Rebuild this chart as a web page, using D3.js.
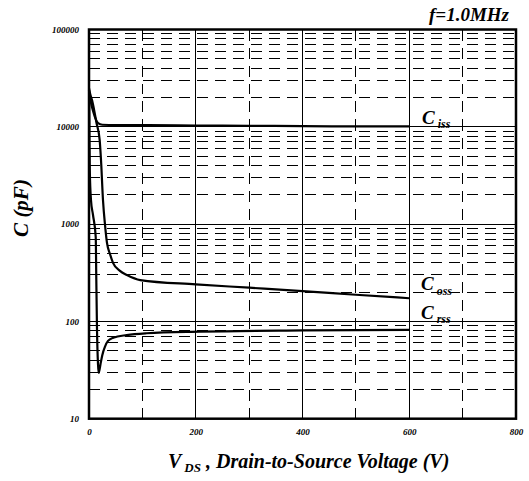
<!DOCTYPE html>
<html>
<head>
<meta charset="utf-8">
<script src="https://cdn.jsdelivr.net/npm/d3@7"></script>
<style>
  html, body { margin: 0; padding: 0; background: #fff; }
  svg { display: block; }
  text { font-family: "Liberation Serif", "Times New Roman", serif; font-weight: bold; font-style: italic; fill: #000; }
</style>
</head>
<body>
<svg id="chart" width="529" height="481"></svg>
<script>
// Capacitance vs. drain-to-source voltage, f = 1.0 MHz
const xTicks = [0, 200, 400, 600, 800];
const xMinor = [100, 300, 500, 700];
const yTicks = [10, 100, 1000, 10000, 100000];

// [V_DS (V), C (pF)]
const ciss = [[0, 24000], [2, 20000], [5, 16500], [8, 14300], [12, 12200], [17, 10900], [25, 10500],
  [50, 10400], [100, 10400], [200, 10300], [300, 10250], [400, 10150], [500, 10100], [600, 10080]];
const coss = [[0, 25000], [2, 22000], [6, 18500], [10, 14500], [14, 11000], [20, 7300], [22.5, 4560],
  [26.2, 1770], [30, 980], [33.7, 640], [39.3, 493], [45, 400], [58, 330], [71, 300], [96, 266],
  [200, 240], [300, 222], [400, 205], [500, 188], [600, 173]];
const crss = [[0.4, 22800], [0.9, 7300], [1.5, 3600], [3.7, 1770], [7.5, 1240], [12.6, 736], [13.7, 266],
  [15, 82], [16.9, 36], [18.2, 29.5], [21.6, 36.5], [24.9, 45], [30, 55], [35.6, 63], [45.5, 68],
  [70.7, 72.4], [108, 75.5], [208, 78.4], [401, 80.7], [600, 82]];

const svg = d3.select("#chart");
const margin = { left: 89, right: 13, top: 29.5, bottom: 62.3 };
const W = 529, H = 481;
const x = d3.scaleLinear().domain([0, 800]).range([margin.left, W - margin.right]);
const y = d3.scaleLog().domain([10, 100000]).range([H - margin.bottom, margin.top]);

const grid = svg.append("g").attr("shape-rendering", "crispEdges");

// minor (dashed) horizontal grid: 2..9 in each decade
const minorY = [];
for (let d = 10; d < 100000; d *= 10) for (let k = 2; k <= 9; k++) minorY.push(d * k);
grid.selectAll(".hminor").data(minorY).join("line")
  .attr("x1", x(0)).attr("x2", x(800))
  .attr("y1", d => y(d)).attr("y2", d => y(d))
  .attr("stroke", "#000").attr("stroke-width", 1).attr("stroke-dasharray", "11,7");

// major (solid) horizontal grid
grid.selectAll(".hmajor").data(yTicks.slice(1, -1)).join("line")
  .attr("x1", x(0)).attr("x2", x(800))
  .attr("y1", d => y(d)).attr("y2", d => y(d))
  .attr("stroke", "#000").attr("stroke-width", 1);

// vertical grid
grid.selectAll(".vminor").data(xMinor).join("line")
  .attr("x1", d => x(d)).attr("x2", d => x(d))
  .attr("y1", y(100000)).attr("y2", y(10))
  .attr("stroke", "#000").attr("stroke-width", 1).attr("stroke-dasharray", "11,7");
grid.selectAll(".vmajor").data(xTicks.slice(1, -1)).join("line")
  .attr("x1", d => x(d)).attr("x2", d => x(d))
  .attr("y1", y(100000)).attr("y2", y(10))
  .attr("stroke", "#000").attr("stroke-width", 1);

// axes tick labels
const yAxis = d3.axisLeft(y).tickValues(yTicks).tickFormat(d3.format("d")).tickSize(0).tickPadding(10);
const gy = svg.append("g").attr("transform", `translate(${margin.left},0)`).call(yAxis);
gy.select(".domain").remove();
gy.selectAll("text").attr("font-family", null).style("font-size", "9px");

const xAxis = d3.axisBottom(x).tickValues(xTicks).tickFormat(d3.format("d")).tickSize(0).tickPadding(10);
const gx = svg.append("g").attr("transform", `translate(0,${H - margin.bottom})`).call(xAxis);
gx.select(".domain").remove();
gx.selectAll("text").attr("font-family", null).style("font-size", "9px");

// curves
const line = d3.line().x(d => x(d[0])).y(d => y(d[1])).curve(d3.curveMonotoneX);
[ciss, coss, crss].forEach(s => {
  svg.append("path").datum(s).attr("d", line)
    .attr("fill", "none").attr("stroke", "#000").attr("stroke-width", 2.2)
    .attr("stroke-linejoin", "round");
});

// plot border
svg.append("rect")
  .attr("x", x(0)).attr("y", y(100000))
  .attr("width", x(800) - x(0)).attr("height", y(10) - y(100000))
  .attr("fill", "none").attr("stroke", "#000").attr("stroke-width", 2.5);

// curve labels
function capLabel(xp, yp, sub, subDy) {
  const t = svg.append("text").attr("x", xp).attr("y", yp).style("font-size", "19px");
  t.append("tspan").text("C");
  t.append("tspan").attr("dx", 3).attr("dy", subDy).style("font-size", "12px").text(sub);
}
capLabel(422, 124, "iss", 4);
capLabel(421, 290, "oss", 5);
capLabel(421, 319, "rss", 4);

// frequency note
svg.append("text").attr("x", 509).attr("y", 21).attr("text-anchor", "end")
  .style("font-size", "19px").text("f=1.0MHz");

// axis titles
const xt = svg.append("text").attr("x", 168).attr("y", 468).style("font-size", "20px");
xt.append("tspan").text("V");
xt.append("tspan").attr("dx", 3).attr("dy", 4).style("font-size", "13px").text("DS");
xt.append("tspan").attr("dy", -4).text(" , Drain-to-Source Voltage (V)");

svg.append("text")
  .attr("transform", "translate(28,208) rotate(-90)")
  .attr("text-anchor", "middle").style("font-size", "21px").text("C (pF)");
</script>
</body>
</html>
